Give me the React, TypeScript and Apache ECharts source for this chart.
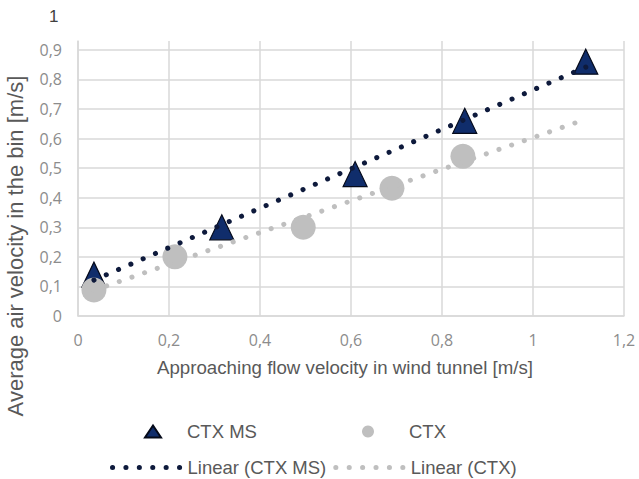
import React, { useEffect, useRef } from 'react';
import * as echarts from 'echarts';

const ctxMsX = [0.035, 0.316, 0.609, 0.85, 1.116];
const ctxMsY = [0.14, 0.3, 0.48, 0.66, 0.86];
const ctxX = [0.035, 0.213, 0.495, 0.69, 0.846];
const ctxY = [0.088, 0.2, 0.3, 0.432, 0.54];
const trendMsRange = [0.035, 1.116];
const trendCtxRange = [0.035, 1.096];
const seriesNames = ['CTX MS', 'CTX', 'Linear (CTX MS)', 'Linear (CTX)'];
const xAxisTitle = 'Approaching flow velocity in wind tunnel [m/s]';
const yAxisTitle = 'Average air velocity in the bin [m/s]';
const topTickLabel = '1';

function fit(xs: number[], ys: number[]) {
  const n = xs.length;
  const mx = xs.reduce((a, b) => a + b, 0) / n;
  const my = ys.reduce((a, b) => a + b, 0) / n;
  let sxy = 0, sxx = 0;
  for (let i = 0; i < n; i++) {
    sxy += (xs[i] - mx) * (ys[i] - my);
    sxx += (xs[i] - mx) ** 2;
  }
  const b = sxy / sxx;
  const a = my - b * mx;
  return (x: number) => a + b * x;
}

const zip = (xs: number[], ys: number[]) => xs.map((x, i) => [x, ys[i]]);

export default function App() {
  const ref = useRef<HTMLDivElement>(null);
  useEffect(() => {
    if (!ref.current) return;
    const chart = echarts.init(ref.current, null, { renderer: 'svg' });
    const fMs = fit(ctxMsX, ctxMsY);
    const fCtx = fit(ctxX, ctxY);
    const textFont = 'Liberation Sans, Arial, sans-serif';
    const tickFont = 'Open Sans, sans-serif';
    const gridColor = '#d9d9d9';
    const navy = '#102d6b';
    const navyDot = '#0e1a3c';
    const gray = '#bfbfbf';
    const dotted = [0.1, 13.3];
    const legendText = { fontFamily: textFont, fontSize: 18.5, color: '#595959' };
    chart.setOption({
      animation: false,
      backgroundColor: '#ffffff',
      grid: { left: 78, right: 15, top: 41, bottom: 163 },
      xAxis: {
        type: 'value',
        min: 0,
        max: 1.2,
        interval: 0.2,
        name: xAxisTitle,
        nameLocation: 'middle',
        nameGap: 42,
        nameTextStyle: { fontFamily: textFont, fontSize: 18.7, color: '#595959', padding: [0, 12, 0, 0] },
        axisLine: { show: true, lineStyle: { color: gridColor, width: 1.5 } },
        axisTick: { show: false },
        axisLabel: {
          margin: 16,
          fontFamily: tickFont,
          fontSize: 16,
          color: '#8c8c8c',
          formatter: (v: number) => String(Math.round(v * 10) / 10).replace('.', ','),
        },
        splitLine: { show: true, lineStyle: { color: gridColor, width: 1.5 } },
      },
      yAxis: {
        type: 'value',
        min: 0,
        max: 0.93,
        interval: 0.1,
        axisLine: { show: true, lineStyle: { color: gridColor, width: 1.5 } },
        axisTick: { show: false },
        axisLabel: {
          margin: 16,
          fontFamily: tickFont,
          fontSize: 16,
          color: '#8c8c8c',
          showMaxLabel: false,
          formatter: (v: number) => String(Math.round(v * 10) / 10).replace('.', ','),
        },
        splitLine: { show: true, showMaxLine: false, lineStyle: { color: gridColor, width: 1.5 } },
      },
      legend: [
        {
          left: 139,
          top: 417,
          itemWidth: 16,
          itemHeight: 12,
          textStyle: { ...legendText, padding: [0, 0, 0, 21] },
          data: [{ name: seriesNames[0], icon: 'triangle' }],
        },
        {
          left: 357,
          top: 417,
          itemWidth: 12,
          itemHeight: 12,
          textStyle: { ...legendText, padding: [0, 0, 0, 30] },
          data: [{ name: seriesNames[1], icon: 'circle' }],
        },
        {
          left: 105,
          top: 453,
          itemWidth: 70,
          itemHeight: 12,
          itemGap: 7,
          textStyle: legendText,
          itemStyle: { opacity: 0 },
          lineStyle: { width: 5, type: dotted, cap: 'round' },
          data: [seriesNames[2], seriesNames[3]],
        },
      ],
      graphic: [
        {
          type: 'text',
          left: 49,
          top: 8,
          style: { text: topTickLabel, fontFamily: textFont, fontSize: 17, fill: '#404040' },
        },
        {
          type: 'text',
          x: 15,
          y: 246,
          rotation: Math.PI / 2,
          style: {
            text: yAxisTitle,
            fontFamily: textFont,
            fontSize: 22,
            fill: '#595959',
            align: 'center',
            verticalAlign: 'middle',
          },
        },
      ],
      series: [
        {
          name: seriesNames[0],
          type: 'scatter',
          symbol: 'triangle',
          symbolSize: [24, 25],
          itemStyle: { color: navy, borderColor: '#050a1a', borderWidth: 1.2, opacity: 1 },
          data: zip(ctxMsX, ctxMsY),
          z: 2,
        },
        {
          name: seriesNames[1],
          type: 'scatter',
          symbol: 'circle',
          symbolSize: 25,
          itemStyle: { color: gray, opacity: 1 },
          data: zip(ctxX, ctxY),
          z: 3,
        },
        {
          name: seriesNames[2],
          type: 'line',
          showSymbol: false,
          symbol: 'none',
          lineStyle: { color: navyDot, width: 5, type: dotted, cap: 'round' },
          itemStyle: { color: navyDot },
          data: trendMsRange.map((x) => [x, fMs(x)]),
          z: 4,
        },
        {
          name: seriesNames[3],
          type: 'line',
          showSymbol: false,
          symbol: 'none',
          lineStyle: { color: gray, width: 5, type: dotted, cap: 'round' },
          itemStyle: { color: gray },
          data: trendCtxRange.map((x) => [x, fCtx(x)]),
          z: 4,
        },
      ],
    });
    return () => chart.dispose();
  }, []);
  return <div ref={ref} style={{ width: 639, height: 479, position: 'absolute', left: 0, top: 0 }} />;
}
